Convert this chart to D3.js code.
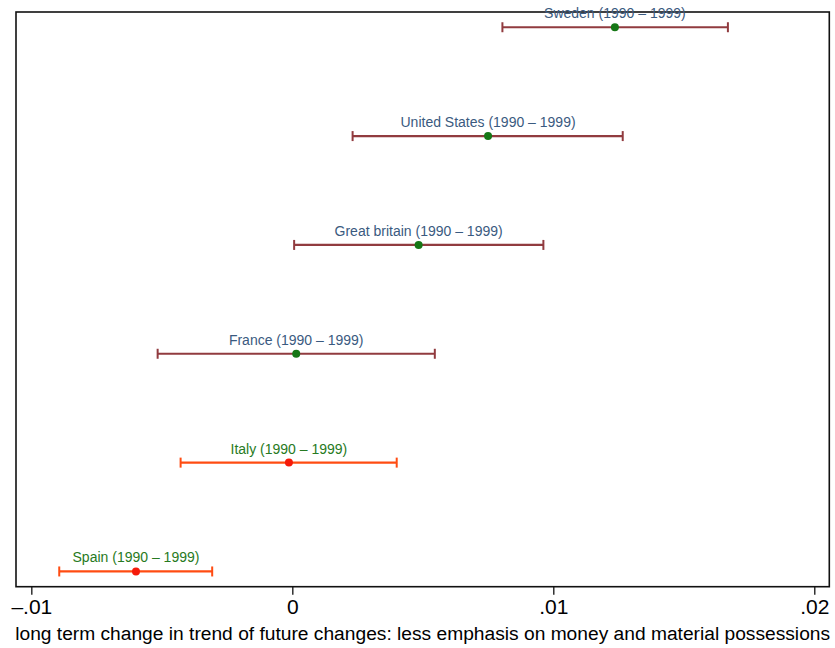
<!DOCTYPE html>
<html>
<head>
<meta charset="utf-8">
<script src="https://cdn.jsdelivr.net/npm/d3@7"></script>
<style>
  html, body { margin: 0; padding: 0; background: #fff; }
  svg { display: block; font-family: "Liberation Sans", Arial, Helvetica, sans-serif; }
</style>
</head>
<body>
<svg id="chart" width="835" height="648"></svg>
<script>
// Countries, top to bottom
const countries = ["Sweden", "United States", "Great britain", "France", "Italy", "Spain"];
const period = "(1990 \u2013 1999)";
// Point estimates and confidence bounds
const estimates = [0.01236, 0.0075, 0.00484, 0.00015, -0.00013, -0.00599];
const lower     = [0.00805, 0.00231, 0.00007, -0.00516, -0.00428, -0.00893];
const upper     = [0.01669, 0.01266, 0.00962, 0.00546, 0.0040, -0.00307];
// Rows drawn in the orange/red style
const highlighted = [false, false, false, false, true, true];
// Axis ticks
const tickValues = [-0.01, 0, 0.01, 0.02];
const tickLabels = ["\u2013.01", "0", ".01", ".02"];
const xTitle = "long term change in trend of future changes: less emphasis on money and material possessions";

const rows = countries.map((c, i) => ({
  name: c, est: estimates[i], lo: lower[i], hi: upper[i], hl: highlighted[i], idx: i
}));

const svg = d3.select("#chart");
const frame = { left: 16, right: 829.3, top: 12, bottom: 586.7 };

const x = d3.scaleLinear()
  .domain([-0.010587, 0.020575])
  .range([frame.left, frame.right]);

const y = d3.scaleLinear()
  .domain([-0.14, 5.14])
  .range([frame.top, frame.bottom]);

const colors = {
  bar: "#913b3f", dot: "#167716", label: "#3a5a80",
  barHL: "#ff4c12", dotHL: "#f51a0a", labelHL: "#277a22"
};

// Plot frame
svg.append("rect")
  .attr("x", frame.left).attr("y", frame.top)
  .attr("width", frame.right - frame.left)
  .attr("height", frame.bottom - frame.top)
  .attr("fill", "none").attr("stroke", "#111").attr("stroke-width", 1.6);

// X axis
const axis = d3.axisBottom(x)
  .tickValues(tickValues)
  .tickFormat((d, i) => tickLabels[i])
  .tickSize(8)
  .tickSizeOuter(0);

const gx = svg.append("g")
  .attr("transform", `translate(0,${frame.bottom})`)
  .call(axis);
gx.select(".domain").remove();
gx.selectAll(".tick line").attr("stroke", "#111").attr("stroke-width", 1.3);
gx.selectAll(".tick text")
  .attr("y", 12)
  .attr("dy", "0.71em")
  .attr("fill", "#000")
  .style("font-size", "21px")
  .style("font-family", "'Liberation Sans', Arial, sans-serif");

svg.append("text")
  .attr("x", (frame.left + frame.right) / 2)
  .attr("y", 640)
  .attr("text-anchor", "middle")
  .attr("fill", "#000")
  .style("font-size", "19.2px")
  .text(xTitle);

// Confidence intervals
const g = svg.append("g");
const capH = 5;
const item = g.selectAll("g.row").data(rows).join("g").attr("class", "row");

item.append("line")
  .attr("x1", d => x(d.lo)).attr("x2", d => x(d.hi))
  .attr("y1", d => y(d.idx)).attr("y2", d => y(d.idx))
  .attr("stroke", d => d.hl ? colors.barHL : colors.bar)
  .attr("stroke-width", 2.2);

item.selectAll("line.cap")
  .data(d => [d.lo, d.hi].map(v => ({ v, d })))
  .join("line").attr("class", "cap")
  .attr("x1", c => x(c.v)).attr("x2", c => x(c.v))
  .attr("y1", c => y(c.d.idx) - capH).attr("y2", c => y(c.d.idx) + capH)
  .attr("stroke", c => c.d.hl ? colors.barHL : colors.bar)
  .attr("stroke-width", 2);

item.append("circle")
  .attr("cx", d => x(d.est)).attr("cy", d => y(d.idx))
  .attr("r", 4)
  .attr("fill", d => d.hl ? colors.dotHL : colors.dot);

item.append("text")
  .attr("x", d => x(d.est)).attr("y", d => y(d.idx) - 9)
  .attr("text-anchor", "middle")
  .attr("fill", d => d.hl ? colors.labelHL : colors.label)
  .style("font-size", "14px")
  .text(d => `${d.name} ${period}`);
</script>
</body>
</html>
